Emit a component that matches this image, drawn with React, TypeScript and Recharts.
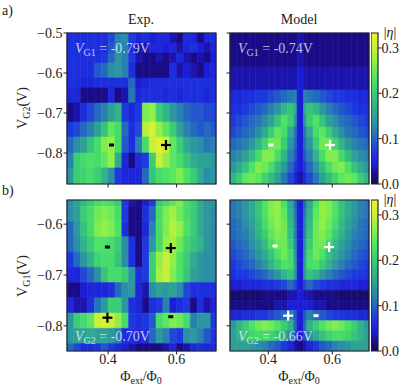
import React from 'react';
import { ScatterChart, Scatter, XAxis, YAxis, ReferenceArea } from 'recharts';

const FONT = '"Liberation Serif", "DejaVu Serif", serif';

// flux axis: cell edges (Phi_ext / Phi_0)
const phiEdgesExp = [0.28, 0.3, 0.32, 0.34, 0.36, 0.38, 0.4, 0.42, 0.44, 0.46, 0.48, 0.5, 0.52, 0.54, 0.56, 0.58, 0.6, 0.62, 0.64, 0.66, 0.68, 0.7, 0.715];
const phiEdgesModel = [0.28, 0.3, 0.32, 0.34, 0.36, 0.38, 0.4, 0.42, 0.44, 0.46, 0.48, 0.49, 0.51, 0.52, 0.54, 0.56, 0.58, 0.6, 0.62, 0.64, 0.66, 0.68, 0.7, 0.715];

// gate voltage axis: cell edges (V), top to bottom
const vg2EdgesExp = [-0.5, -0.525, -0.55, -0.575, -0.6125, -0.6375, -0.675, -0.7225, -0.76, -0.8, -0.8375, -0.8775];
const vg2EdgesModel = [-0.5, -0.585, -0.6425, -0.675, -0.705, -0.735, -0.7625, -0.7925, -0.8225, -0.85, -0.8775];
const vg1EdgesExp = [-0.5525, -0.565, -0.595, -0.625, -0.655, -0.685, -0.715, -0.745, -0.775, -0.805, -0.835, -0.8495];
const vg1EdgesModel = [-0.5525, -0.57, -0.59, -0.61, -0.63, -0.65, -0.67, -0.69, -0.71, -0.73, -0.75, -0.77, -0.79, -0.81, -0.83, -0.8495];

const phiTicks = [0.4, 0.6];
const vg2Ticks = [-0.5, -0.6, -0.7, -0.8];
const vg1Ticks = [-0.6, -0.7, -0.8];
const etaTicks = [0, 0.1, 0.2, 0.3];
const etaMax = 0.333;

// |eta| x 100, one row per gate-voltage cell (top row first)
const etaExpA = [
  [6, 6, 6, 6, 6, 6, 8, 12, 13, 7, 5, 6, 4, 5, 5, 3, 2, 6, 5, 2, 5, 6],
  [6, 6, 6, 6, 6, 6, 9, 13, 12, 6, 3, 3, 5, 5, 4, 5, 3, 5, 6, 4, 3, 5],
  [6, 6, 6, 6, 6, 7, 10, 14, 12, 7, 3, 2, 2, 3, 2, 3, 5, 3, 2, 3, 2, 4],
  [6, 6, 6, 6, 9, 10, 13, 14, 12, 6, 2, 2, 2, 2, 2, 6, 3, 4, 3, 2, 4, 5],
  [6, 6, 5, 5, 6, 6, 6, 6, 6, 10, 4, 5, 6, 6, 6, 6, 6, 6, 6, 6, 6, 6],
  [5, 5, 2, 2, 2, 2, 5, 2, 3, 11, 5, 6, 6, 6, 5, 6, 5, 6, 6, 6, 5, 6],
  [2, 3, 6, 8, 10, 12, 15, 17, 7, 5, 7, 26, 27, 20, 17, 14, 12, 10, 9, 9, 8, 8],
  [7, 8, 10, 12, 15, 19, 24, 22, 10, 6, 8, 29, 31, 27, 24, 20, 15, 12, 10, 9, 10, 9],
  [10, 13, 15, 19, 22, 26, 27, 22, 9, 6, 12, 22, 30, 32, 30, 24, 20, 16, 14, 13, 11, 12],
  [12, 20, 22, 23, 22, 24, 27, 16, 5, 2, 6, 7, 20, 30, 27, 24, 22, 19, 16, 15, 15, 14],
  [14, 20, 21, 22, 20, 17, 13, 7, 5, 5, 5, 10, 19, 22, 23, 24, 26, 23, 20, 16, 13, 14],
];

const etaModelA = [
  [2, 2, 2, 2, 2, 2, 2, 2, 2, 2, 2, 3, 2, 2, 2, 2, 2, 2, 2, 2, 2, 2, 2],
  [3, 3, 3, 3, 3, 3, 3, 3, 3, 3, 3, 4, 3, 3, 3, 3, 3, 3, 3, 3, 3, 3, 3],
  [5, 5, 6, 6, 7, 7, 8, 9, 10, 11, 12, 4, 12, 11, 10, 9, 8, 7, 7, 6, 6, 5, 5],
  [6, 6, 7, 8, 9, 10, 12, 14, 17, 19, 16, 4, 16, 19, 17, 14, 12, 10, 9, 8, 7, 6, 6],
  [7, 8, 9, 10, 11, 13, 15, 19, 23, 20, 14, 4, 14, 20, 23, 19, 15, 13, 11, 10, 9, 8, 7],
  [8, 9, 10, 11, 13, 16, 20, 24, 22, 16, 11, 4, 11, 16, 22, 24, 20, 16, 13, 11, 10, 9, 8],
  [10, 11, 12, 14, 17, 21, 25, 25, 20, 14, 10, 4, 10, 14, 20, 25, 25, 21, 17, 14, 12, 11, 10],
  [12, 13, 15, 18, 22, 26, 26, 22, 17, 12, 9, 4, 9, 12, 17, 22, 26, 26, 22, 18, 15, 13, 12],
  [14, 16, 19, 23, 26, 25, 22, 18, 14, 10, 7, 4, 7, 10, 14, 18, 22, 25, 26, 23, 19, 16, 14],
  [17, 20, 24, 25, 24, 21, 18, 15, 11, 8, 5, 3, 5, 8, 11, 15, 18, 21, 24, 25, 24, 20, 17],
];

const etaExpB = [
  [13, 15, 18, 20, 22, 23, 22, 20, 7, 3, 2, 4, 7, 20, 22, 24, 26, 22, 20, 16, 14, 14],
  [13, 15, 20, 22, 25, 26, 25, 22, 7, 2, 2, 6, 10, 22, 26, 28, 25, 22, 20, 16, 14, 13],
  [10, 14, 19, 22, 26, 27, 26, 23, 6, 2, 2, 5, 12, 22, 26, 29, 27, 23, 20, 16, 14, 13],
  [10, 13, 17, 20, 23, 23, 22, 20, 13, 6, 2, 7, 14, 22, 27, 28, 25, 21, 19, 17, 14, 13],
  [7, 10, 14, 17, 21, 22, 22, 19, 13, 6, 2, 7, 20, 27, 30, 27, 23, 20, 16, 14, 13, 13],
  [5, 5, 8, 10, 13, 19, 22, 22, 20, 14, 6, 7, 20, 28, 30, 26, 23, 19, 15, 14, 13, 13],
  [2, 2, 4, 5, 5, 5, 6, 10, 13, 14, 5, 3, 13, 15, 14, 15, 13, 8, 6, 6, 6, 6],
  [5, 3, 3, 6, 11, 14, 20, 20, 14, 6, 5, 2, 6, 7, 12, 4, 6, 7, 2, 6, 3, 5],
  [14, 20, 22, 24, 30, 31, 30, 27, 22, 7, 6, 7, 9, 22, 24, 26, 25, 22, 12, 14, 14, 7],
  [14, 15, 15, 16, 15, 15, 14, 12, 6, 6, 5, 6, 10, 14, 12, 8, 7, 13, 14, 12, 9, 7],
  [10, 8, 6, 6, 7, 9, 7, 5, 4, 3, 2, 2, 2, 2, 3, 5, 2, 3, 5, 6, 5, 6],
];

const etaModelB = [
  [11, 12, 14, 16, 19, 23, 26, 27, 23, 16, 10, 4, 10, 16, 23, 27, 26, 23, 19, 16, 14, 12, 11],
  [11, 12, 14, 16, 19, 23, 26, 27, 24, 17, 11, 4, 11, 17, 24, 27, 26, 23, 19, 16, 14, 12, 11],
  [10, 11, 13, 15, 18, 22, 25, 27, 25, 18, 12, 4, 12, 18, 25, 27, 25, 22, 18, 15, 13, 11, 10],
  [10, 11, 12, 14, 17, 20, 24, 26, 25, 19, 12, 4, 12, 19, 25, 26, 24, 20, 17, 14, 12, 11, 10],
  [9, 10, 11, 13, 15, 18, 22, 25, 25, 20, 13, 4, 13, 20, 25, 25, 22, 18, 15, 13, 11, 10, 9],
  [8, 9, 10, 12, 14, 16, 19, 23, 25, 22, 14, 4, 14, 22, 25, 23, 19, 16, 14, 12, 10, 9, 8],
  [7, 8, 9, 10, 12, 14, 17, 20, 23, 22, 15, 4, 15, 22, 23, 20, 17, 14, 12, 10, 9, 8, 7],
  [6, 7, 7, 8, 9, 10, 12, 14, 17, 19, 14, 4, 14, 19, 17, 14, 12, 10, 9, 8, 7, 7, 6],
  [4, 4, 5, 5, 5, 6, 6, 7, 8, 10, 8, 4, 8, 10, 8, 7, 6, 6, 5, 5, 5, 4, 4],
  [1, 1, 1, 1, 1, 2, 2, 2, 2, 3, 3, 4, 3, 3, 2, 2, 2, 2, 1, 1, 1, 1, 1],
  [2, 2, 2, 2, 2, 2, 2, 3, 3, 4, 4, 4, 4, 4, 3, 3, 2, 2, 2, 2, 2, 2, 2],
  [5, 5, 6, 6, 7, 7, 8, 9, 10, 12, 9, 4, 9, 12, 10, 9, 8, 7, 7, 6, 6, 5, 5],
  [14, 17, 20, 23, 25, 26, 25, 23, 20, 17, 10, 4, 10, 17, 20, 23, 25, 26, 25, 23, 20, 17, 14],
  [15, 17, 19, 21, 22, 22, 21, 19, 16, 13, 8, 4, 8, 13, 16, 19, 21, 22, 22, 21, 19, 17, 15],
  [15, 15, 15, 14, 13, 12, 10, 9, 7, 5, 3, 2, 3, 5, 7, 9, 10, 12, 13, 14, 15, 15, 15],
];

// sign markers (+ / -)
const marksExpA = [
  { x: 0.41, y: -0.78, sign: '-' },
  { x: 0.569, y: -0.78, sign: '+' },
];
const marksModelA = [
  { x: 0.408, y: -0.78, sign: '-' },
  { x: 0.593, y: -0.78, sign: '+' },
];
const marksExpB = [
  { x: 0.398, y: -0.645, sign: '-' },
  { x: 0.583, y: -0.647, sign: '+' },
  { x: 0.398, y: -0.784, sign: '+' },
  { x: 0.583, y: -0.782, sign: '-' },
];
const marksModelB = [
  { x: 0.421, y: -0.643, sign: '-' },
  { x: 0.59, y: -0.645, sign: '+' },
  { x: 0.462, y: -0.78, sign: '+' },
  { x: 0.549, y: -0.78, sign: '-' },
];

// colorbar end points (used only to span the bar)
const colorbarSpan = [
  { x: 0, y: 0 },
  { x: 1, y: etaMax },
];

// colormap, dark indigo -> blue -> teal -> green -> yellow
const cmap: [number, string][] = [
  [0.0, '#140a58'],
  [0.02, '#190c86'],
  [0.04, '#1c1ed6'],
  [0.07, '#1e38e0'],
  [0.1, '#2468c0'],
  [0.13, '#2a8ea6'],
  [0.16, '#30aa90'],
  [0.19, '#36c47a'],
  [0.23, '#4ce266'],
  [0.27, '#90f048'],
  [0.3, '#c8f03a'],
  [0.333, '#f2f222'],
];

function hexRgb(h: string) {
  return [1, 3, 5].map((i) => parseInt(h.slice(i, i + 2), 16));
}

function etaColor(v: number) {
  if (v <= cmap[0][0]) return cmap[0][1];
  for (let i = 1; i < cmap.length; i++) {
    if (v <= cmap[i][0]) {
      const [v0, c0] = cmap[i - 1];
      const [v1, c1] = cmap[i];
      const t = (v - v0) / (v1 - v0);
      const a = hexRgb(c0);
      const b = hexRgb(c1);
      return `rgb(${a.map((x, k) => Math.round(x + (b[k] - x) * t)).join(',')})`;
    }
  }
  return cmap[cmap.length - 1][1];
}

const fmtV = (v: number) => v.toFixed(1).replace('-', '\u2212');
const tickStyle = { fontSize: 14, fill: '#222', fontFamily: FONT };

function markShape(color: string) {
  return (props: any) => {
    const { cx, cy, payload } = props;
    if (payload.sign === '+') {
      return (
        <g>
          <line x1={cx - 5} x2={cx + 5} y1={cy} y2={cy} stroke={color} strokeWidth={2.2} />
          <line x1={cx} x2={cx} y1={cy - 5} y2={cy + 5} stroke={color} strokeWidth={2.2} />
        </g>
      );
    }
    return <rect x={cx - 2.5} y={cy - 1.5} width={5} height={3} fill={color} />;
  };
}

interface PanelProps {
  left: number;
  top: number;
  w: number;
  h: number;
  xEdges: number[];
  yEdges: number[];
  eta: number[][];
  yTicks: number[];
  xLabels: boolean;
  yLabels: boolean;
  marks: { x: number; y: number; sign: string }[];
  markColor: string;
}

function HeatPanel(p: PanelProps) {
  const xDomain: [number, number] = [p.xEdges[0], p.xEdges[p.xEdges.length - 1]];
  const yDomain: [number, number] = [p.yEdges[p.yEdges.length - 1], p.yEdges[0]];
  const cells: React.ReactNode[] = [];
  p.eta.forEach((row, i) =>
    row.forEach((v, j) => {
      const c = etaColor(v / 100);
      cells.push(
        <ReferenceArea
          key={`c${i}-${j}`}
          x1={p.xEdges[j]}
          x2={p.xEdges[j + 1]}
          y1={p.yEdges[i + 1]}
          y2={p.yEdges[i]}
          fill={c}
          fillOpacity={1}
          stroke={c}
          strokeWidth={0.6}
          ifOverflow="visible"
        />,
      );
    }),
  );
  return (
    <div style={{ position: 'absolute', left: p.left - 46, top: p.top - 10 }}>
      <ScatterChart width={p.w + 50} height={p.h + 32} margin={{ top: 10, right: 4, bottom: 0, left: 0 }}>
        <XAxis
          type="number"
          dataKey="x"
          domain={xDomain}
          allowDataOverflow
          ticks={phiTicks}
          interval={0}
          height={22}
          tickSize={3.5}
          tickMargin={0}
          axisLine={false}
          tickLine={{ stroke: '#222' }}
          tick={tickStyle}
          tickFormatter={p.xLabels ? (v: number) => v.toFixed(1) : () => ''}
        />
        <YAxis
          type="number"
          dataKey="y"
          domain={yDomain}
          allowDataOverflow
          ticks={p.yTicks}
          interval={0}
          width={46}
          tickSize={3.5}
          tickMargin={1}
          axisLine={false}
          tickLine={{ stroke: '#222' }}
          tick={tickStyle}
          tickFormatter={p.yLabels ? fmtV : () => ''}
        />
        {cells}
        <ReferenceArea
          x1={xDomain[0]}
          x2={xDomain[1]}
          y1={yDomain[0]}
          y2={yDomain[1]}
          fill="none"
          stroke="#222"
          strokeWidth={1.2}
          ifOverflow="visible"
        />
        <Scatter data={p.marks} isAnimationActive={false} shape={markShape(p.markColor)} />
      </ScatterChart>
    </div>
  );
}

function Colorbar({ left, top, h, id }: { left: number; top: number; h: number; id: string }) {
  return (
    <div style={{ position: 'absolute', left, top: top - 10 }}>
      <ScatterChart width={37} height={h + 20} margin={{ top: 10, right: 0, bottom: 10, left: 0 }}>
        <defs>
          <linearGradient id={id} x1="0" y1="1" x2="0" y2="0">
            {cmap.map(([v, c]) => (
              <stop key={v} offset={v / etaMax} stopColor={c} />
            ))}
          </linearGradient>
        </defs>
        <XAxis type="number" dataKey="x" domain={[0, 1]} allowDataOverflow hide />
        <YAxis
          type="number"
          dataKey="y"
          orientation="right"
          domain={[0, etaMax]}
          allowDataOverflow
          ticks={etaTicks}
          interval={0}
          width={30}
          tickSize={3.5}
          tickMargin={0}
          axisLine={false}
          tickLine={{ stroke: '#222' }}
          tick={tickStyle}
          tickFormatter={(v: number) => v.toFixed(1)}
        />
        <ReferenceArea
          x1={0}
          x2={1}
          y1={0}
          y2={etaMax}
          fill={`url(#${id})`}
          fillOpacity={1}
          stroke="#222"
          strokeWidth={1.2}
          ifOverflow="visible"
        />
        <Scatter data={colorbarSpan} isAnimationActive={false} shape={() => <g />} />
      </ScatterChart>
    </div>
  );
}

function Txt({ x, y, children, color = '#222', rotate = false, anchor = 'center', size = 14 }: any) {
  const tr = anchor === 'center' ? 'translate(-50%, -50%)' : 'translate(0, -50%)';
  return (
    <div
      style={{
        position: 'absolute',
        left: x,
        top: y,
        transform: rotate ? `${tr} rotate(-90deg)` : tr,
        fontFamily: FONT,
        fontSize: size,
        lineHeight: 1,
        color,
        whiteSpace: 'nowrap',
      }}
    >
      {children}
    </div>
  );
}

const sub = (s: string) => (
  <span style={{ fontSize: 10, position: 'relative', top: 3 }}>{s}</span>
);

const annColor = 'rgba(255,255,255,0.72)';

export default function App() {
  return (
    <div style={{ position: 'absolute', left: 0, top: 0, width: 415, height: 389, background: '#fff', overflow: 'hidden' }}>
      <HeatPanel left={67} top={33} w={149} h={151} xEdges={phiEdgesExp} yEdges={vg2EdgesExp} eta={etaExpA}
        yTicks={vg2Ticks} xLabels={false} yLabels marks={marksExpA} markColor="#000" />
      <HeatPanel left={230} top={33} w={139} h={151} xEdges={phiEdgesModel} yEdges={vg2EdgesModel} eta={etaModelA}
        yTicks={vg2Ticks} xLabels={false} yLabels={false} marks={marksModelA} markColor="#fff" />
      <HeatPanel left={67} top={200} w={149} h={151} xEdges={phiEdgesExp} yEdges={vg1EdgesExp} eta={etaExpB}
        yTicks={vg1Ticks} xLabels yLabels marks={marksExpB} markColor="#000" />
      <HeatPanel left={230} top={200} w={139} h={151} xEdges={phiEdgesModel} yEdges={vg1EdgesModel} eta={etaModelB}
        yTicks={vg1Ticks} xLabels yLabels={false} marks={marksModelB} markColor="#fff" />
      <Colorbar left={371} top={33} h={151} id="cbA" />
      <Colorbar left={371} top={200} h={151} id="cbB" />

      <Txt x={2} y={11} anchor="left">a)</Txt>
      <Txt x={2} y={191} anchor="left">b)</Txt>
      <Txt x={141} y={20}>Exp.</Txt>
      <Txt x={299} y={20}>Model</Txt>
      <Txt x={390} y={33}>|<i>η</i>|</Txt>
      <Txt x={390} y={200}>|<i>η</i>|</Txt>

      <Txt x={23} y={108} rotate>V{sub('G2')}(V)</Txt>
      <Txt x={23} y={276} rotate>V{sub('G1')}(V)</Txt>
      <Txt x={141} y={377}>Φ{sub('ext')}/Φ{sub('0')}</Txt>
      <Txt x={299} y={377}>Φ{sub('ext')}/Φ{sub('0')}</Txt>

      <Txt x={75} y={49} anchor="left" color={annColor}><i>V</i>{sub('G1')} = -0.79V</Txt>
      <Txt x={238} y={49} anchor="left" color={annColor}><i>V</i>{sub('G1')} = -0.74V</Txt>
      <Txt x={75} y={337} anchor="left" color={annColor}><i>V</i>{sub('G2')} = -0.70V</Txt>
      <Txt x={238} y={337} anchor="left" color={annColor}><i>V</i>{sub('G2')} = -0.66V</Txt>
    </div>
  );
}
